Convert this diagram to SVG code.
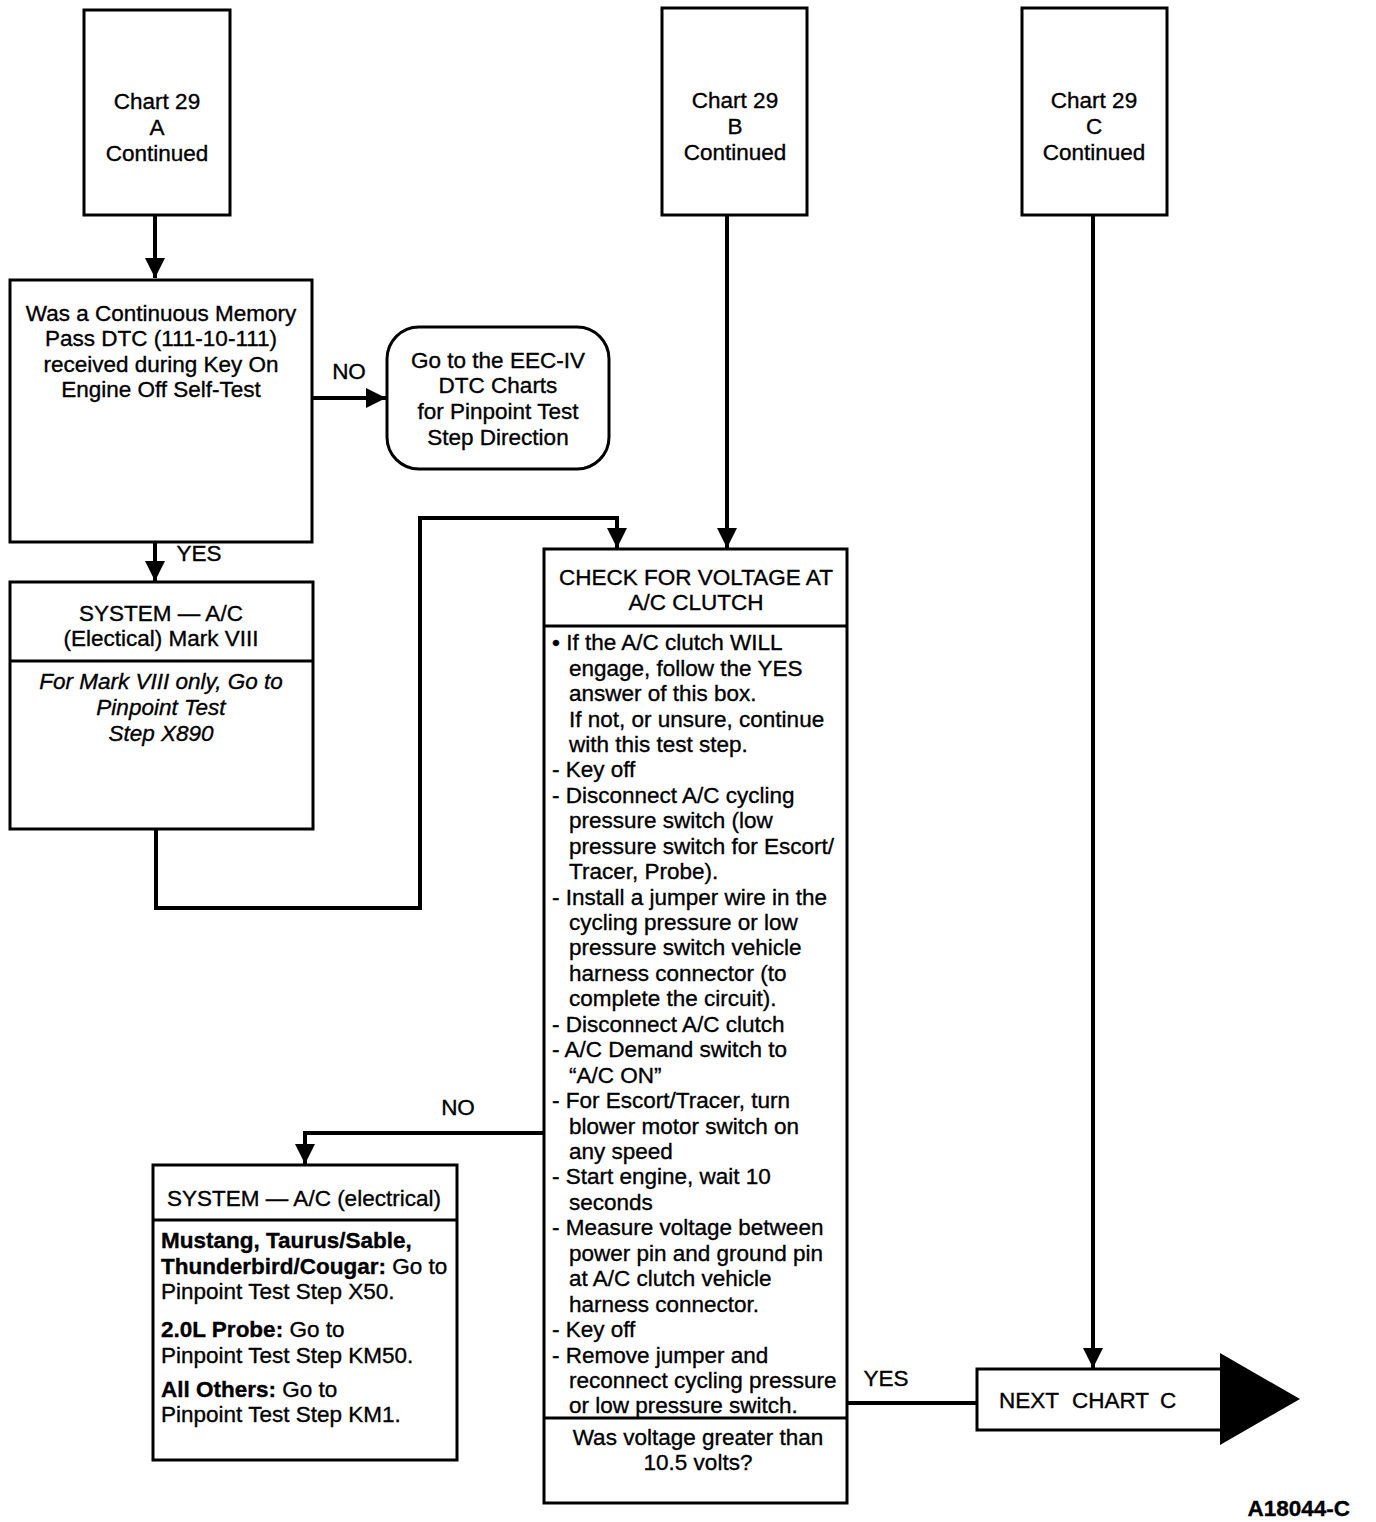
<svg xmlns="http://www.w3.org/2000/svg" width="1376" height="1522" viewBox="0 0 1376 1522">
<style>
.box{fill:#fff;stroke:#000;stroke-width:3}
.div{stroke:#000;stroke-width:3}
.con{fill:none;stroke:#000;stroke-width:4}
text{font-family:"Liberation Sans",Arial,sans-serif;font-size:22.5px;fill:#000;stroke:#000;stroke-width:0.35}
.c{text-anchor:middle}
.b{font-weight:bold}
.i{font-style:italic}
</style>
<defs>
<marker id="ah" viewBox="0 0 10 10" refX="10" refY="5" markerWidth="20" markerHeight="20" markerUnits="userSpaceOnUse" orient="auto">
<path d="M0,0 L10,5 L0,10 z" fill="#000"/>
</marker>
</defs>
<rect width="1376" height="1522" fill="#fff"/>

<g id="chartA">
<rect class="box" x="84" y="10" width="146" height="205"/>
<text class="c" x="157" y="109">Chart 29</text>
<text class="c" x="157" y="135">A</text>
<text class="c" x="157" y="161">Continued</text>
</g>
<g id="chartB">
<rect class="box" x="662" y="8" width="145" height="207"/>
<text class="c" x="735" y="108">Chart 29</text>
<text class="c" x="735" y="134">B</text>
<text class="c" x="735" y="160">Continued</text>
</g>
<g id="chartC">
<rect class="box" x="1022" y="8" width="145" height="207"/>
<text class="c" x="1094" y="108">Chart 29</text>
<text class="c" x="1094" y="134">C</text>
<text class="c" x="1094" y="160">Continued</text>
</g>

<g id="decision">
<rect class="box" x="10" y="280" width="302" height="262"/>
<text class="c" x="161" y="321">Was a Continuous Memory</text>
<text class="c" x="161" y="346">Pass DTC (111-10-111)</text>
<text class="c" x="161" y="372">received during Key On</text>
<text class="c" x="161" y="397">Engine Off Self-Test</text>
</g>

<g id="eecGoTo">
<rect class="box" x="387" y="327" width="222" height="142" rx="32" ry="32"/>
<text class="c" x="498" y="368">Go to the EEC-IV</text>
<text class="c" x="498" y="393">DTC Charts</text>
<text class="c" x="498" y="419">for Pinpoint Test</text>
<text class="c" x="498" y="445">Step Direction</text>
</g>

<g id="markVIII">
<rect class="box" x="10" y="582" width="303" height="247"/>
<line class="div" x1="10" y1="661" x2="313" y2="661"/>
<text class="c" x="161" y="621">SYSTEM — A/C</text>
<text class="c" x="161" y="646">(Electical) Mark VIII</text>
<text class="c i" x="161" y="689">For Mark VIII only, Go to</text>
<text class="c i" x="161" y="715">Pinpoint Test</text>
<text class="c i" x="161" y="741">Step X890</text>
</g>

<g id="checkVoltage">
<rect class="box" x="544" y="549" width="303" height="954"/>
<line class="div" x1="544" y1="626" x2="847" y2="626"/>
<line class="div" x1="544" y1="1418" x2="847" y2="1418"/>
<text class="c" x="696" y="585">CHECK FOR VOLTAGE AT</text>
<text class="c" x="696" y="610">A/C CLUTCH</text>
<text x="552" y="650">• If the A/C clutch WILL</text>
<text x="569" y="676">engage, follow the YES</text>
<text x="569" y="701">answer of this box.</text>
<text x="569" y="727">If not, or unsure, continue</text>
<text x="569" y="752">with this test step.</text>
<text x="552" y="777">- Key off</text>
<text x="552" y="803">- Disconnect A/C cycling</text>
<text x="569" y="828">pressure switch (low</text>
<text x="569" y="854">pressure switch for Escort/</text>
<text x="569" y="879">Tracer, Probe).</text>
<text x="552" y="905">- Install a jumper wire in the</text>
<text x="569" y="930">cycling pressure or low</text>
<text x="569" y="955">pressure switch vehicle</text>
<text x="569" y="981">harness connector (to</text>
<text x="569" y="1006">complete the circuit).</text>
<text x="552" y="1032">- Disconnect A/C clutch</text>
<text x="552" y="1057">- A/C Demand switch to</text>
<text x="569" y="1083">“A/C ON”</text>
<text x="552" y="1108">- For Escort/Tracer, turn</text>
<text x="569" y="1134">blower motor switch on</text>
<text x="569" y="1159">any speed</text>
<text x="552" y="1184">- Start engine, wait 10</text>
<text x="569" y="1210">seconds</text>
<text x="552" y="1235">- Measure voltage between</text>
<text x="569" y="1261">power pin and ground pin</text>
<text x="569" y="1286">at A/C clutch vehicle</text>
<text x="569" y="1312">harness connector.</text>
<text x="552" y="1337">- Key off</text>
<text x="552" y="1363">- Remove jumper and</text>
<text x="569" y="1388">reconnect cycling pressure</text>
<text x="569" y="1413">or low pressure switch.</text>
<text class="c" x="698" y="1445">Was voltage greater than</text>
<text class="c" x="698" y="1470">10.5 volts?</text>
</g>

<g id="systemElectrical">
<rect class="box" x="153" y="1165" width="304" height="295"/>
<line class="div" x1="153" y1="1220" x2="457" y2="1220"/>
<text class="c" x="304" y="1206">SYSTEM — A/C (electrical)</text>
<text x="161" y="1248" class="b">Mustang, Taurus/Sable,</text>
<text x="161" y="1274"><tspan class="b">Thunderbird/Cougar:</tspan> Go to</text>
<text x="161" y="1299">Pinpoint Test Step X50.</text>
<text x="161" y="1337"><tspan class="b">2.0L Probe:</tspan> Go to</text>
<text x="161" y="1363">Pinpoint Test Step KM50.</text>
<text x="161" y="1397"><tspan class="b">All Others:</tspan> Go to</text>
<text x="161" y="1422">Pinpoint Test Step KM1.</text>
</g>

<g id="nextChartC">
<rect class="box" x="977" y="1369" width="245" height="61"/>
<polygon points="1220,1353 1300,1399 1220,1445" fill="#000"/>
<text x="999" y="1408"><tspan x="999">NEXT</tspan><tspan x="1072">CHART</tspan><tspan x="1160">C</tspan></text>
</g>

<g id="connectors">
<path class="con" d="M155 215 V278" marker-end="url(#ah)"/>
<path class="con" d="M312 398 H386" marker-end="url(#ah)"/>
<path class="con" d="M155 542 V581" marker-end="url(#ah)"/>
<path class="con" d="M156 829 V908 H420 V518 H617 V548" marker-end="url(#ah)"/>
<path class="con" d="M727 215 V548" marker-end="url(#ah)"/>
<path class="con" d="M544 1133 H305 V1164" marker-end="url(#ah)"/>
<path class="con" d="M847 1403 H977"/>
<path class="con" d="M1093 215 V1368" marker-end="url(#ah)"/>
<text class="c" x="349" y="379">NO</text>
<text class="c" x="199" y="561">YES</text>
<text class="c" x="458" y="1115">NO</text>
<text class="c" x="886" y="1386">YES</text>
</g>

<text class="b" x="1350" y="1516" text-anchor="end">A18044-C</text>
</svg>
